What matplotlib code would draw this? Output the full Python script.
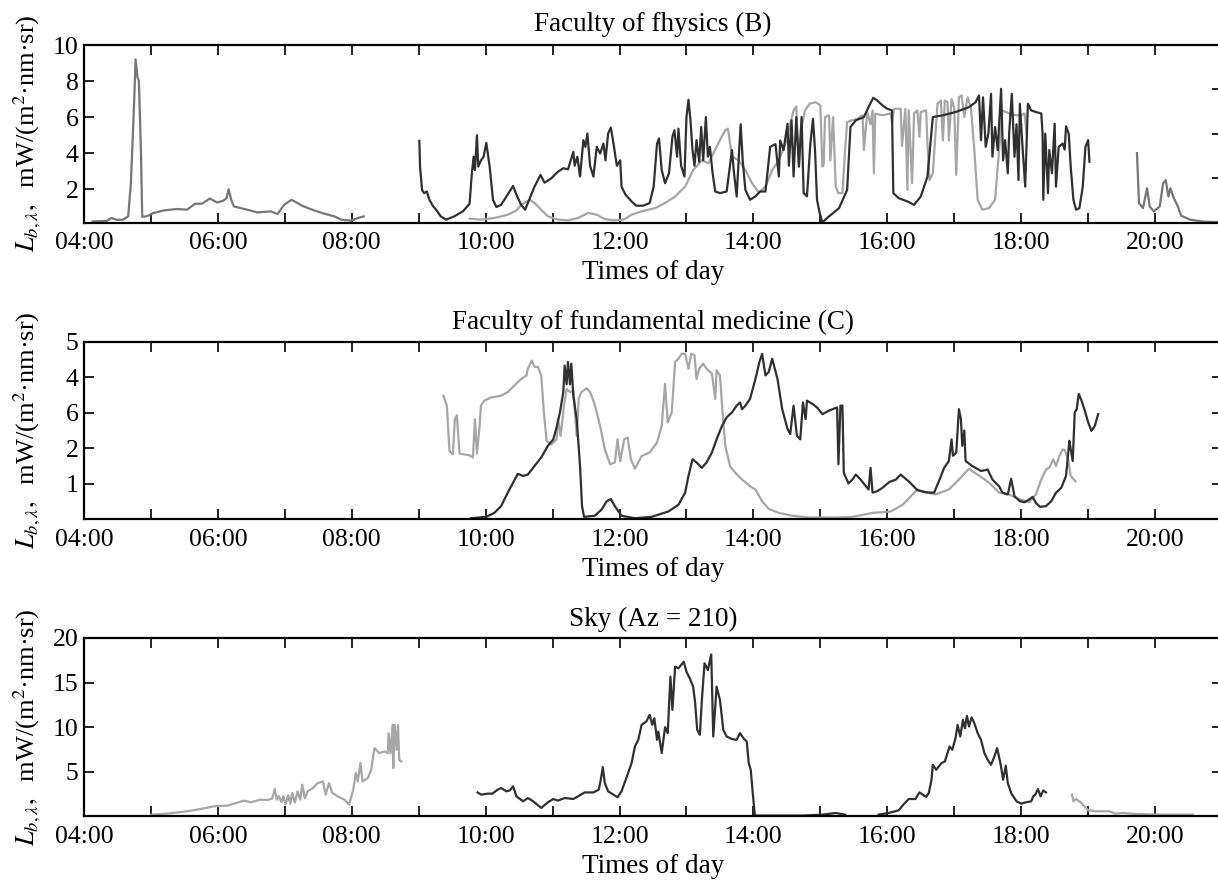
import matplotlib
matplotlib.use("Agg")
import matplotlib.pyplot as plt
import numpy as np

plt.rcParams['font.family'] = ['Liberation Serif', 'DejaVu Serif']
plt.rcParams['mathtext.fontset'] = 'stix'

# ---------------- data (time in hours of day) ----------------
xtick_hours = list(range(4, 22))
xtick_labels = ["04:00", "", "06:00", "", "08:00", "", "10:00", "", "12:00", "",
                "14:00", "", "16:00", "", "18:00", "", "20:00", ""]

titles = ["Faculty of fhysics (B)", "Faculty of fundamental medicine (C)", "Sky (Az = 210)"]
xlabel = "Times of day"
ylabel = "$L_{b,\\lambda},$  mW/(m$^2$\u00b7nm\u00b7sr)"

# Panel 1 - early / evening series (medium grey)
p1_morn_t = [4.13, 4.34, 4.41, 4.49, 4.58, 4.66, 4.70, 4.75, 4.77, 4.80, 4.82, 4.85, 4.87, 4.94,
             5.04, 5.19, 5.39, 5.54, 5.66, 5.76, 5.88, 5.99, 6.08, 6.13, 6.16, 6.20, 6.24, 6.44,
             6.59, 6.79, 6.89, 6.99, 7.10, 7.19, 7.26, 7.34, 7.44, 7.59, 7.74, 7.84, 7.99, 8.09, 8.18]
p1_morn_v = [0.21, 0.24, 0.40, 0.30, 0.30, 0.49, 2.3, 6.9, 9.2, 8.2, 8.0, 4.2, 0.46, 0.50,
             0.68, 0.82, 0.90, 0.86, 1.19, 1.19, 1.48, 1.26, 1.36, 1.50, 2.0, 1.40, 1.04, 0.86,
             0.71, 0.77, 0.62, 1.13, 1.41, 1.23, 1.08, 0.96, 0.82, 0.64, 0.49, 0.31, 0.25, 0.40, 0.49]
p1_eve_t = [19.73, 19.76, 19.82, 19.88, 19.92, 19.98, 20.07, 20.12, 20.16, 20.20, 20.23, 20.27,
            20.34, 20.39, 20.52, 20.72, 20.87, 21.0]
p1_eve_v = [4.0, 1.23, 0.95, 2.05, 1.04, 0.77, 1.04, 2.33, 2.5, 1.59, 2.05, 1.59,
            1.04, 0.53, 0.31, 0.20, 0.18, 0.18]

# Panel 1 - dark series
p1_dark_t = [9.01, 9.02, 9.05, 9.08, 9.12, 9.16, 9.21, 9.26, 9.33, 9.41, 9.53, 9.66, 9.76, 9.79,
             9.82, 9.84, 9.87, 9.89, 9.93, 9.97, 10.01, 10.06, 10.11, 10.16, 10.23, 10.31, 10.41,
             10.46, 10.53, 10.59, 10.66, 10.73, 10.82, 10.88, 10.98, 11.08, 11.16, 11.23, 11.31,
             11.33, 11.37, 11.41, 11.46, 11.49, 11.52, 11.56, 11.61, 11.66, 11.71, 11.76, 11.79,
             11.83, 11.87, 11.91, 11.96, 12.01, 12.03, 12.09, 12.18, 12.25, 12.35, 12.45, 12.51,
             12.56, 12.59, 12.63, 12.68, 12.74, 12.79, 12.82, 12.86, 12.88, 12.92, 12.97, 13.00,
             13.03, 13.06, 13.09, 13.12, 13.15, 13.19, 13.22, 13.25, 13.29, 13.32, 13.35, 13.39,
             13.43, 13.50, 13.60, 13.65, 13.68, 13.71, 13.75, 13.79, 13.81, 13.84, 13.88, 13.95,
             14.03, 14.10, 14.18, 14.25, 14.33, 14.38, 14.40, 14.45, 14.51, 14.53, 14.57, 14.60,
             14.64, 14.68, 14.72, 14.75, 14.80, 14.85, 14.89, 14.92, 14.95, 14.99, 15.03, 15.13,
             15.28, 15.40, 15.45, 15.53, 15.65, 15.72, 15.79, 15.85, 15.93, 16.00, 16.07, 16.09,
             16.17, 16.30, 16.40, 16.50, 16.60, 16.68, 16.83, 17.02, 17.22, 17.32, 17.37, 17.40,
             17.43, 17.47, 17.51, 17.55, 17.57, 17.61, 17.65, 17.70, 17.73, 17.76, 17.80, 17.82,
             17.86, 17.90, 17.93, 17.96, 17.98, 18.02, 18.06, 18.10, 18.15, 18.22, 18.30, 18.32,
             18.33, 18.36, 18.40, 18.42, 18.46, 18.50, 18.52, 18.56, 18.62, 18.65, 18.67, 18.71,
             18.74, 18.78, 18.82, 18.87, 18.92, 18.96, 19.00, 19.02]
p1_dark_v = [4.68, 3.25, 1.96, 1.78, 1.87, 1.41, 1.08, 0.86, 0.49, 0.31, 0.49, 0.77, 1.19, 2.7,
             3.8, 3.06, 4.99, 3.25, 3.6, 3.8, 4.57, 3.25, 1.41, 1.01, 1.13, 1.59, 2.18,
             1.69, 1.13, 0.86, 1.5, 2.14, 2.79, 2.36, 2.6, 2.97, 3.16, 3.1, 4.07,
             3.3, 3.8, 2.7, 4.72, 4.35, 5.09, 3.3, 2.7, 4.35, 3.98, 4.53, 3.6,
             5.09, 5.42, 4.53, 3.3, 3.6, 2.14, 1.69, 1.32, 1.08, 1.08, 1.23, 2.14,
             4.53, 4.81, 3.06, 2.33, 2.9, 4.9, 5.27, 3.8, 5.36, 3.3, 2.7, 6.0,
             6.96, 5.82, 4.17, 3.3, 4.72, 3.52, 5.45, 3.6, 6.0, 3.8, 4.35, 2.9,
             1.87, 1.78, 1.87, 3.3, 4.17, 2.9, 1.59, 4.35, 5.6, 3.6, 1.96, 1.41,
             1.6, 1.87, 1.87, 4.35, 4.5, 2.7, 4.7, 4.17, 5.63, 3.3, 5.82, 2.7,
             6.0, 3.25, 6.0, 1.78, 1.6, 4.5, 5.9, 4.2, 1.41, 0.68, 0.16, 0.49,
             0.95, 1.96, 5.45, 5.82, 6.0, 6.55, 7.07, 6.92, 6.64, 6.46, 6.37, 1.78,
             1.5, 1.32, 1.13, 1.59, 2.7, 6.0, 6.1, 6.28, 6.55, 6.83, 7.2, 4.72,
             7.1, 4.35, 5.08, 7.29, 3.8, 5.45, 4.17, 7.57, 3.6, 4.72, 2.88, 5.08,
             7.29, 3.8, 5.6, 2.51, 6.74, 4.35, 2.14, 6.74, 6.37, 6.28, 6.2, 5.08,
             1.41, 5.08, 1.78, 4.17, 2.88, 5.63, 2.14, 4.35, 4.53, 4.2, 5.49, 5.08,
             3.25, 1.41, 0.86, 0.95, 2.14, 4.35, 4.72, 3.52]

# Panel 1 - light series
p1_light_t = [9.76, 9.93, 10.13, 10.33, 10.46, 10.53, 10.66, 10.73, 10.83, 10.93, 11.08, 11.23,
              11.38, 11.53, 11.66, 11.78, 11.91, 12.06, 12.18, 12.33, 12.53, 12.68, 12.83, 12.98,
              13.10, 13.23, 13.33, 13.40, 13.50, 13.58, 13.62, 13.68, 13.78, 13.88, 13.98, 14.08,
              14.18, 14.28, 14.38, 14.48, 14.55, 14.60, 14.64, 14.68, 14.72, 14.77, 14.84, 14.93,
              15.00, 15.03, 15.05, 15.07, 15.13, 15.15, 15.19, 15.23, 15.27, 15.33, 15.37, 15.40,
              15.45, 15.55, 15.63, 15.65, 15.70, 15.75, 15.78, 15.80, 15.82, 15.93, 16.05, 16.07,
              16.10, 16.20, 16.22, 16.27, 16.30, 16.32, 16.37, 16.40, 16.45, 16.48, 16.50, 16.58,
              16.60, 16.63, 16.68, 16.75, 16.80, 16.83, 16.86, 16.90, 16.92, 16.96, 17.00, 17.03,
              17.07, 17.11, 17.15, 17.20, 17.25, 17.30, 17.35, 17.42, 17.52, 17.61, 17.67, 17.72,
              17.82, 17.92, 18.00, 18.05, 18.08]
p1_light_v = [0.36, 0.31, 0.40, 0.58, 0.82, 1.13, 1.41, 1.23, 0.86, 0.49, 0.31, 0.27,
              0.40, 0.68, 0.58, 0.34, 0.27, 0.31, 0.58, 0.77, 0.95, 1.23, 1.59, 2.14,
              3.06, 3.6, 3.43, 3.98, 4.72, 5.27, 5.36, 3.8, 3.6, 3.06, 2.33, 1.81,
              2.14, 3.06, 3.6, 4.53, 5.63, 6.37, 6.59, 3.3, 5.45, 6.37, 6.74, 6.83,
              6.64, 3.25, 3.4, 6.0, 6.1, 3.6, 6.0, 2.14, 1.78, 1.78, 4.17, 5.72,
              5.8, 5.9, 6.1, 4.17, 6.28, 5.6, 6.37, 2.88, 6.19, 6.1, 6.2, 5.7,
              6.46, 6.46, 4.4, 6.46, 1.96, 6.37, 2.33, 6.2, 6.37, 4.9, 6.28, 6.37,
              4.5, 2.5, 2.88, 6.74, 6.92, 4.7, 6.92, 6.83, 4.7, 7.0, 6.5, 2.79,
              7.1, 7.2, 6.0, 7.1, 6.5, 4.17, 1.41, 0.86, 0.95, 1.41, 4.17, 6.37,
              6.2, 6.1, 6.1, 6.2, 5.1]

# Panel 2 - dark series
p2_dark_t = [9.78, 10.01, 10.13, 10.23, 10.33, 10.41, 10.48, 10.56, 10.63, 10.73, 10.83, 10.93,
             11.01, 11.06, 11.11, 11.16, 11.18, 11.21, 11.23, 11.26, 11.28, 11.31, 11.36, 11.41,
             11.44, 11.47, 11.63, 11.73, 11.81, 11.87, 11.93, 12.03, 12.23, 12.48, 12.73, 12.88,
             12.98, 13.03, 13.09, 13.15, 13.23, 13.30, 13.38, 13.45, 13.53, 13.60, 13.68, 13.75,
             13.80, 13.83, 13.88, 13.95, 14.03, 14.09, 14.13, 14.18, 14.23, 14.28, 14.32, 14.36,
             14.43, 14.51, 14.55, 14.60, 14.65, 14.70, 14.74, 14.78, 14.80, 14.88, 14.95, 15.03,
             15.13, 15.25, 15.27, 15.30, 15.33, 15.35, 15.42, 15.48, 15.53, 15.60, 15.68, 15.72,
             15.75, 15.78, 15.85, 15.93, 16.03, 16.13, 16.20, 16.33, 16.45, 16.58, 16.70, 16.77,
             16.85, 16.92, 16.96, 16.98, 17.03, 17.07, 17.10, 17.12, 17.15, 17.17, 17.27, 17.40,
             17.50, 17.57, 17.67, 17.72, 17.80, 17.85, 17.90, 17.98, 18.05, 18.12, 18.17, 18.22,
             18.28, 18.37, 18.45, 18.52, 18.60, 18.67, 18.72, 18.74, 18.77, 18.80, 18.83, 18.86,
             18.90, 18.95, 19.00, 19.05, 19.10, 19.15]
p2_dark_v = [0.03, 0.07, 0.18, 0.37, 0.75, 1.03, 1.28, 1.22, 1.26, 1.5, 1.74, 2.07,
             2.25, 2.59, 3.01, 3.58, 4.33, 3.8, 4.43, 3.8, 4.38, 3.48, 2.82, 1.5,
             0.37, 0.07, 0.10, 0.27, 0.51, 0.57, 0.37, 0.10, 0.03, 0.07, 0.22, 0.41,
             0.75, 1.22, 1.69, 1.6, 1.45, 1.6, 1.88, 2.25, 2.63, 2.87, 3.01, 3.2,
             3.29, 3.1, 3.2, 3.39, 3.95, 4.43, 4.66, 4.05, 4.15, 4.52, 4.24, 3.95,
             3.1, 2.54, 2.4, 3.2, 2.35, 2.25, 3.29, 2.82, 3.34, 3.25, 3.15, 2.96,
             3.06, 3.15, 1.55, 3.2, 3.2, 1.31, 1.01, 1.12, 1.26, 1.12, 0.93, 0.84,
             1.45, 0.75, 0.79, 0.89, 1.05, 1.12, 1.26, 1.05, 0.82, 0.76, 0.75, 1.07,
             1.45, 1.64, 2.25, 1.79, 1.88, 3.1, 2.82, 2.07, 2.5, 1.64, 1.5, 1.36,
             1.4, 1.12, 0.93, 0.75, 0.7, 1.14, 0.65, 0.51, 0.48, 0.56, 0.63, 0.46,
             0.35, 0.37, 0.51, 0.75, 0.89, 1.22, 2.21, 1.97, 1.64, 3.01, 3.1, 3.53,
             3.35, 3.06, 2.73, 2.49, 2.63, 2.96]

# Panel 2 - light series
p2_light_t = [9.37, 9.42, 9.46, 9.51, 9.54, 9.57, 9.61, 9.68, 9.76, 9.81, 9.84, 9.87, 9.91,
              9.93, 9.98, 10.08, 10.23, 10.33, 10.43, 10.53, 10.61, 10.63, 10.69, 10.73, 10.78,
              10.83, 10.87, 10.91, 10.98, 11.06, 11.08, 11.12, 11.17, 11.21, 11.26, 11.31, 11.36,
              11.39, 11.43, 11.51, 11.56, 11.61, 11.66, 11.72, 11.78, 11.86, 11.93, 11.97, 12.01,
              12.07, 12.12, 12.17, 12.23, 12.33, 12.45, 12.56, 12.63, 12.68, 12.72, 12.78, 12.83,
              12.88, 12.93, 12.98, 13.03, 13.07, 13.12, 13.15, 13.19, 13.25, 13.30, 13.38, 13.43,
              13.45, 13.50, 13.54, 13.58, 13.65, 13.73, 13.83, 13.95, 14.03, 14.13, 14.23, 14.38,
              14.58, 14.83, 15.23, 15.48, 15.78, 16.05, 16.23, 16.45, 16.58, 16.72, 16.92, 17.07,
              17.22, 17.38, 17.52, 17.67, 17.82, 17.98, 18.12, 18.22, 18.30, 18.37, 18.42, 18.48,
              18.52, 18.57, 18.62, 18.65, 18.70, 18.74, 18.81]
p2_light_v = [3.48, 3.2, 1.92, 1.83, 2.82, 2.93, 1.85, 1.83, 1.8, 1.74, 2.82, 1.85, 2.63,
              3.2, 3.34, 3.43, 3.48, 3.58, 3.77, 3.95, 4.05, 4.24, 4.47, 4.29, 4.29,
              4.05, 3.01, 2.21, 2.11, 2.25, 2.82, 2.35, 3.2, 3.67, 3.58, 3.62, 2.35,
              3.39, 3.58, 3.69, 3.58, 3.34, 3.01, 2.54, 1.97, 1.55, 1.6, 2.25, 1.64,
              2.25, 2.3, 1.69, 1.42, 1.78, 1.88, 2.16, 2.63, 3.81, 2.73, 3.01, 4.43,
              4.52, 4.66, 4.66, 4.24, 4.66, 4.62, 3.95, 4.24, 4.38, 4.24, 4.1, 3.39,
              4.2, 4.05, 3.01, 2.07, 1.5, 1.31, 1.12, 0.93, 0.84, 0.51, 0.29, 0.18,
              0.10, 0.05, 0.05, 0.07, 0.18, 0.22, 0.41, 0.84, 0.75, 0.70, 0.84, 1.12,
              1.42, 1.22, 1.03, 0.75, 0.70, 0.56, 0.48, 0.70, 1.12, 1.4, 1.45, 1.69,
              1.5, 1.78, 1.97, 1.95, 1.69, 1.22, 1.07]

# Panel 3 - light series (morning, evening)
p3_morn_t = [5.01, 5.24, 5.54, 5.74, 5.94, 6.14, 6.24, 6.39, 6.49, 6.64, 6.74, 6.81, 6.85, 6.88,
             6.91, 6.95, 6.98, 7.01, 7.05, 7.08, 7.11, 7.15, 7.19, 7.23, 7.26, 7.30, 7.34, 7.42,
             7.49, 7.57, 7.61, 7.66, 7.71, 7.79, 7.89, 7.96, 8.02, 8.06, 8.09, 8.13, 8.16, 8.24,
             8.29, 8.34, 8.41, 8.49, 8.54, 8.55, 8.58, 8.61, 8.62, 8.64, 8.67, 8.69, 8.71, 8.74]
p3_morn_v = [0.19, 0.30, 0.56, 0.82, 1.12, 1.20, 1.42, 1.76, 1.57, 1.87, 1.83, 1.98, 3.06, 1.87,
             2.27, 1.60, 2.27, 1.31, 2.38, 1.42, 2.61, 1.53, 2.80, 1.87, 3.55, 2.01, 2.80, 3.17,
             3.73, 3.91, 2.43, 3.73, 2.61, 2.24, 1.87, 1.31, 2.90, 4.85, 3.91, 5.97, 3.91, 4.29,
             5.22, 7.65, 7.09, 7.28, 7.09, 9.33, 7.09, 10.26, 5.41, 10.26, 7.46, 10.26, 6.34, 6.15]
p3_eve_t = [18.76, 18.78, 18.82, 18.90, 19.00, 19.12, 19.32, 19.40, 19.52, 19.72, 20.02, 20.32, 20.56]
p3_eve_v = [2.43, 1.68, 1.94, 1.50, 0.67, 0.56, 0.56, 0.30, 0.37, 0.26, 0.19, 0.19, 0.19]

# Panel 3 - dark series (two segments)
p3_dark_t = [9.88, 9.93, 10.03, 10.10, 10.18, 10.23, 10.31, 10.36, 10.41, 10.46, 10.56, 10.63,
             10.71, 10.83, 10.93, 11.01, 11.08, 11.18, 11.31, 11.38, 11.48, 11.61, 11.69, 11.72,
             11.75, 11.78, 11.83, 11.91, 11.97, 12.03, 12.11, 12.18, 12.23, 12.28, 12.33, 12.40,
             12.45, 12.49, 12.52, 12.56, 12.58, 12.63, 12.68, 12.72, 12.76, 12.79, 12.83, 12.88,
             12.96, 13.00, 13.05, 13.10, 13.13, 13.16, 13.20, 13.23, 13.27, 13.32, 13.37, 13.40,
             13.45, 13.50, 13.55, 13.60, 13.68, 13.75, 13.80, 13.85, 13.90, 13.93, 13.96, 13.99,
             14.02, 14.05, 14.73, 15.03, 15.23, 15.37]
p3_dark_v = [2.68, 2.43, 2.54, 2.54, 2.99, 3.17, 2.80, 2.90, 3.36, 2.24, 1.68, 2.05,
             1.68, 0.94, 1.57, 1.94, 1.76, 2.05, 1.94, 2.24, 2.68, 2.68, 2.99, 4.10,
             5.52, 3.73, 2.80, 2.43, 2.13, 2.80, 4.47, 5.97, 7.83, 8.58, 10.26, 10.63,
             11.38, 10.26, 11.0, 8.58, 9.5, 7.09, 10.0, 9.33, 15.66, 11.94, 16.78, 16.6,
             17.34, 16.22, 15.47, 14.54, 12.69, 9.7, 9.14, 13.06, 17.16, 16.41, 18.16, 8.95,
             14.54, 13.06, 9.7, 8.95, 8.66, 8.58, 9.33, 8.77, 8.39, 5.97, 5.22, 2.61,
             0.19, 0.08, 0.08, 0.19, 0.37, 0.19]
p3_dark2_t = [15.87, 16.02, 16.17, 16.24, 16.32, 16.42, 16.48, 16.58, 16.62, 16.66, 16.68, 16.73,
              16.81, 16.86, 16.93, 16.97, 17.02, 17.05, 17.09, 17.13, 17.16, 17.19, 17.22, 17.26,
              17.30, 17.35, 17.40, 17.45, 17.50, 17.55, 17.60, 17.64, 17.69, 17.73, 17.77, 17.80,
              17.85, 17.93, 18.00, 18.07, 18.15, 18.18, 18.21, 18.25, 18.29, 18.33, 18.37]
p3_dark2_v = [0.19, 0.37, 0.67, 1.31, 1.94, 1.94, 2.68, 2.17, 2.61, 4.10, 5.78, 5.22,
              5.97, 6.15, 7.83, 7.46, 8.77, 10.26, 8.95, 10.82, 9.88, 11.26, 10.07, 11.10,
              10.45, 9.33, 8.58, 7.09, 6.34, 5.78, 6.71, 7.65, 5.97, 4.10, 5.67, 3.73,
              2.61, 1.68, 1.42, 1.57, 1.68, 2.24, 2.43, 3.06, 2.24, 2.90, 2.68]

p1_yticks = [2, 4, 6, 8, 10]
p2_yticks = [1, 2, 3, 4, 5]
p2_yticklabels = ["1", "2", "6", "4", "5"]
p3_yticks = [5, 10, 15, 20]

# ---------------- styling ----------------
DARK = "#303030"
LIGHT = "#a6a6a6"
MID = "#767676"
LW = 1.6
FS_TICK = 18.5
FS_LAB = 19.5
FS_YLAB = 19
FS_TITLE = 19.5

fig = plt.figure(figsize=(12.18, 8.82), dpi=100)
W, H = 1218.0, 882.0
left = 84 / W
width = (1222 - 84) / W
boxes = [(45, 222.5), (341.7, 519.3), (638, 816.3)]
axes = []
for top, bot in boxes:
    ax = fig.add_axes([left, (H - bot) / H, width, (bot - top) / H])
    axes.append(ax)

def style(ax, ylim, yticks, yticklabels=None, right_same=True):
    ax.set_xlim(4, 21)
    ax.set_ylim(*ylim)
    ax.set_xticks(xtick_hours)
    ax.set_xticklabels(xtick_labels)
    ax.set_yticks(yticks)
    if yticklabels is not None:
        ax.set_yticklabels(yticklabels)
    for s in ax.spines.values():
        s.set_linewidth(1.6)
    ax.tick_params(axis='x', direction='in', top=True, bottom=True, length=7.5, width=1.2,
                   labelsize=FS_TICK, pad=7)
    ax.tick_params(axis='y', direction='in', left=True, right=right_same, length=7.5, width=1.2,
                   labelsize=FS_TICK, pad=4)
    ax.set_xlabel(xlabel, fontsize=FS_LAB, labelpad=4)
    ax.set_ylabel(ylabel, fontsize=FS_YLAB)
    ax.yaxis.set_label_coords(-0.036, 0.5)

# Panel 1
ax = axes[0]
ax.plot(p1_morn_t, p1_morn_v, color=MID, lw=LW)
ax.plot(p1_eve_t, p1_eve_v, color=MID, lw=LW)
ax.plot(p1_light_t, p1_light_v, color=LIGHT, lw=LW)
ax.plot(p1_dark_t, p1_dark_v, color=DARK, lw=LW)
style(ax, (0.15, 10), p1_yticks, right_same=False)
ax.set_title(titles[0], fontsize=FS_TITLE, pad=10)
tw = ax.twinx()
tw.set_ylim(0, 20)
tw.set_yticks([5, 10, 15])
tw.set_yticklabels([])
tw.tick_params(axis='y', direction='in', length=7.5, width=1.2)
for s in tw.spines.values():
    s.set_visible(False)

# Panel 2
ax = axes[1]
ax.plot(p2_light_t, p2_light_v, color=LIGHT, lw=LW)
ax.plot(p2_dark_t, p2_dark_v, color=DARK, lw=LW)
style(ax, (0, 5), p2_yticks, p2_yticklabels)
ax.set_title(titles[1], fontsize=FS_TITLE, pad=9)

# Panel 3
ax = axes[2]
ax.plot(p3_morn_t, p3_morn_v, color=LIGHT, lw=LW)
ax.plot(p3_eve_t, p3_eve_v, color=LIGHT, lw=LW)
ax.plot(p3_dark_t, p3_dark_v, color=DARK, lw=LW)
ax.plot(p3_dark2_t, p3_dark2_v, color=DARK, lw=LW)
style(ax, (0, 20), p3_yticks)
ax.set_title(titles[2], fontsize=FS_TITLE, pad=9)

fig.savefig("out.png", dpi=100)
